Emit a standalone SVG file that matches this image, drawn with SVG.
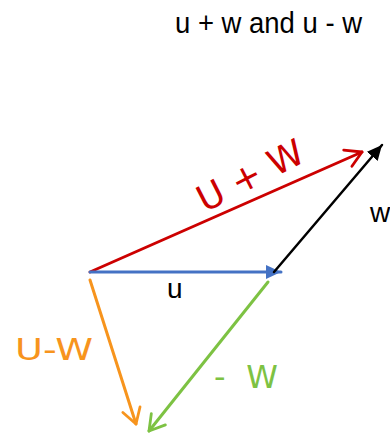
<svg xmlns="http://www.w3.org/2000/svg" width="390" height="435" viewBox="0 0 390 435">
<style>
.lbl{font-family:"Liberation Sans",Arial,sans-serif;fill:#000}
.hand{font-family:"DejaVu Sans","Liberation Sans",sans-serif;font-weight:normal}
.vec{fill:none;stroke-linecap:round}
</style>
<defs>
<marker id="tri-blue" markerUnits="userSpaceOnUse" markerWidth="16" markerHeight="14" refX="15" refY="7" orient="auto"><path d="M0,0 L15,7 L0,14 Z" fill="#4472C4"/></marker>
<marker id="tri-black" markerUnits="userSpaceOnUse" markerWidth="16" markerHeight="14" refX="15" refY="7" orient="auto"><path d="M0,0 L15,7 L0,14 Z" fill="#000"/></marker>
<marker id="open-red" markerUnits="userSpaceOnUse" markerWidth="24" markerHeight="24" refX="20" refY="12" orient="auto"><path d="M4,3 L20,12 L5,21" fill="none" stroke="#CC0000" stroke-width="2.8" stroke-linecap="round" stroke-linejoin="round"/></marker>
<marker id="open-orange" markerUnits="userSpaceOnUse" markerWidth="24" markerHeight="24" refX="20" refY="12" orient="auto"><path d="M5,3 L20,12 L5,21" fill="none" stroke="#F7941D" stroke-width="2.8" stroke-linecap="round" stroke-linejoin="round"/></marker>
<marker id="open-green" markerUnits="userSpaceOnUse" markerWidth="24" markerHeight="24" refX="20" refY="12" orient="auto"><path d="M5,3 L20,12 L5,21" fill="none" stroke="#7DC243" stroke-width="2.8" stroke-linecap="round" stroke-linejoin="round"/></marker>
</defs>
<rect width="390" height="435" fill="#fff"/>
<g id="title"><text class="lbl" x="175" y="33" font-size="29" textLength="187" lengthAdjust="spacingAndGlyphs">u + w and u - w</text></g>
<g id="connectors">
<line class="vec" x1="90" y1="272" x2="362" y2="152" stroke="#CC0000" stroke-width="3" marker-end="url(#open-red)"/>
<line class="vec" x1="90" y1="272" x2="281" y2="272" stroke="#4472C4" stroke-width="3" marker-end="url(#tri-blue)"/>
<line class="vec" x1="274" y1="272" x2="382" y2="145" stroke="#000" stroke-width="2.5" marker-end="url(#tri-black)"/>
<line class="vec" x1="90" y1="280" x2="136" y2="424" stroke="#F7941D" stroke-width="3" marker-end="url(#open-orange)"/>
<line class="vec" x1="268" y1="282" x2="149" y2="431" stroke="#7DC243" stroke-width="3" marker-end="url(#open-green)"/>
</g>
<g id="label-u"><text class="lbl" x="167" y="298" font-size="28">u</text></g>
<g id="label-w"><text class="lbl" x="370" y="222" font-size="28">w</text></g>
<g id="label-uplusw"><text class="hand" x="250" y="188" font-size="36" fill="#CC0000" text-anchor="middle" transform="rotate(-27 250 175)">U + W</text></g>
<g id="label-uminusw"><text class="hand" x="15" y="360" font-size="30" fill="#F7941D" textLength="78" lengthAdjust="spacingAndGlyphs">U-W</text></g>
<g id="label-minusw"><text class="hand" x="214" y="388" font-size="32" fill="#7DC243" textLength="64" lengthAdjust="spacing">- W</text></g>
</svg>
